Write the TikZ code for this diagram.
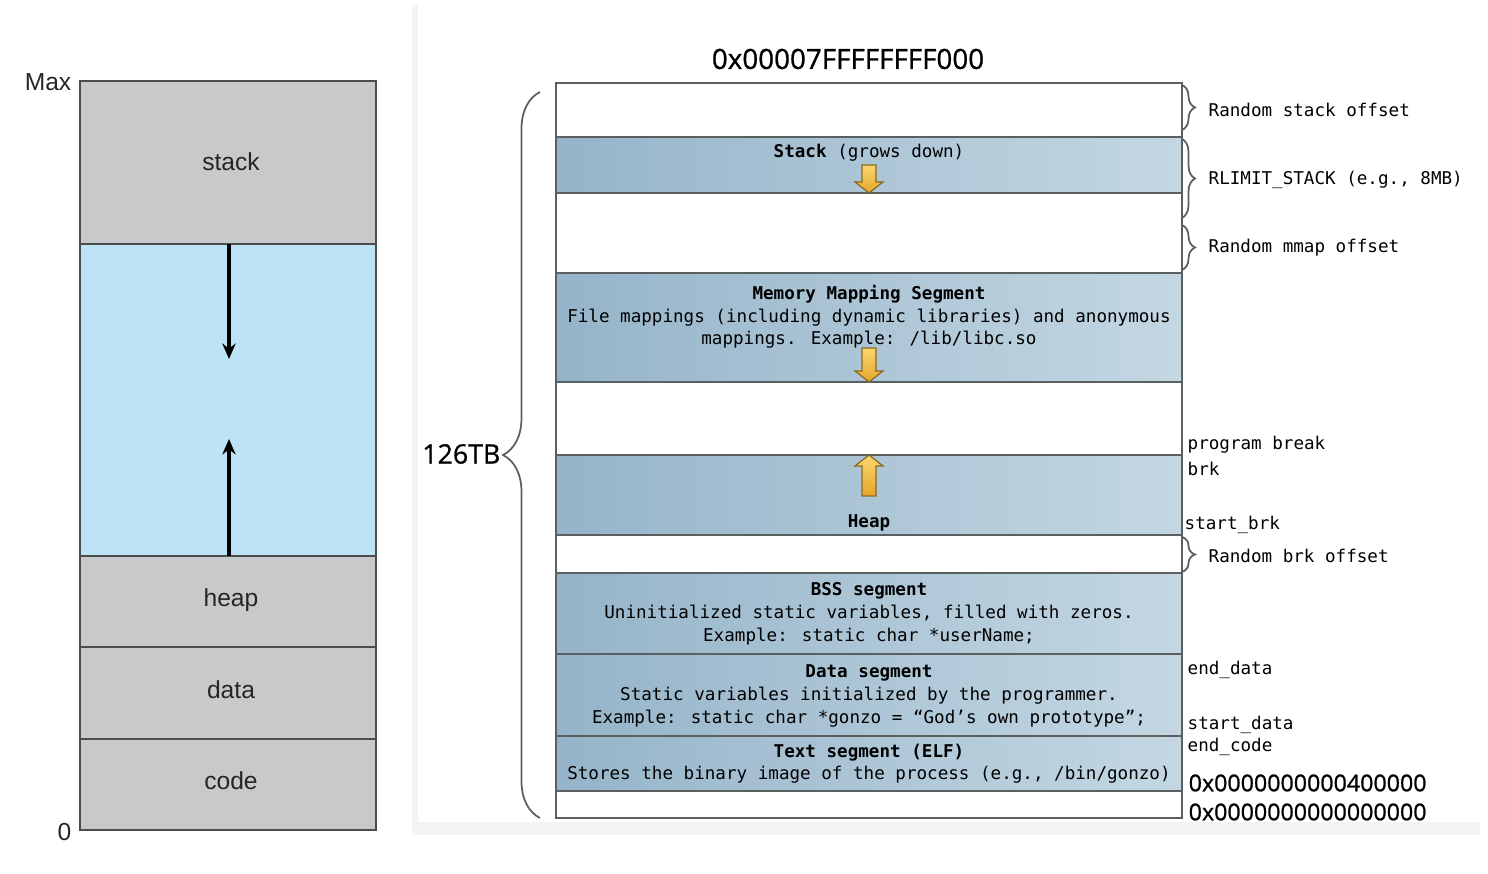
\documentclass[tikz,border=0pt]{standalone}
\usepackage{fontspec}
\setmainfont{Liberation Sans}
\newfontfamily\monofont{DejaVu Sans Mono}
\newfontfamily\hexfont[FakeBold=0.9]{Open Sans}
\usetikzlibrary{positioning, arrows.meta, decorations.pathreplacing}
\definecolor{grau}{HTML}{C8C9CB}
\definecolor{hellblau}{HTML}{BDE3F6}
\definecolor{segdunkel}{HTML}{95B4C9}
\definecolor{seghell}{HTML}{C4D7E3}
\definecolor{rahmen}{HTML}{5A5F5F}
\definecolor{gelbhell}{HTML}{FAD76E}
\definecolor{gelbdunkel}{HTML}{E6A52A}
\definecolor{gelbrand}{HTML}{8A6A20}
\definecolor{papier}{HTML}{F3F3F3}
\tikzset{
  seg/.style={draw=rahmen, line width=0.55pt, left color=segdunkel, right color=seghell},
  linie/.style={draw=black!70, line width=0.45pt},
  links/.style={font=\fontsize{7}{8}\selectfont, text=black!85, inner sep=0pt},
  mono/.style={font=\monofont\fontsize{5}{6.5}\selectfont, align=center, inner sep=0pt, yshift=-0.5pt},
  hex/.style={font=\hexfont\fontsize{6.6}{8}\selectfont, inner sep=0pt, anchor=west},
  klammer/.style={draw=rahmen, line width=0.5pt, decorate, decoration={brace, amplitude=#1}},
  pics/gelbpfeil/.style={code={
    \draw[draw=gelbrand, line width=0.35pt, top color=gelbhell, bottom color=gelbdunkel]
      (-7,-#1) -- (7,-#1) -- (7,#1-11) -- (14,#1-11) -- (0,#1) -- (-14,#1-11) -- (-7,#1-11) -- cycle;
  }}
}
\begin{document}
\begin{tikzpicture}[x=0.01cm, y=-0.01cm]
  \useasboundingbox (0,0) rectangle (1488,874);
  % Hintergrund rechts
  \fill[papier] (412,5) rectangle (1480,835);
  \fill[white] (418,5) rectangle (1480,822);

  % linkes Bild: einfacher Adressraum
  \fill[grau] (80,81) rectangle (376,830);
  \fill[hellblau] (80,244) rectangle (376,556);
  \foreach \y in {244,556,647,739} \draw[linie] (80,\y) -- (376,\y);
  \draw[linie] (80,81) rectangle (376,830);
  \node[links] (stack) at (231,162) {stack};
  \node[links] (heap) at (231,600) {heap};
  \node[links] (data) at (231,690) {data};
  \node[links] (code) at (231,781) {code};
  \node[links, anchor=east] (max) at (72,82) {Max};
  \node[links, anchor=east] (null) at (72,832) {0};
  % Wachstumsrichtungen
  \coordinate (stackunten) at (229,244);
  \coordinate (stackziel) at (229,359);
  \coordinate (heapoben) at (229,556);
  \coordinate (heapziel) at (229,439);
  \draw[line width=0.9pt, -{Stealth[length=4.4pt, width=3.8pt]}] (stackunten) -- (stackziel);
  \draw[line width=0.9pt, -{Stealth[length=4.4pt, width=3.8pt]}] (heapoben) -- (heapziel);

  % rechtes Bild: Linux-Prozess
  \fill[white] (556,83) rectangle (1182,818);
  \foreach \o/\u in {137/193, 273/382, 455/535, 573/654, 654/736, 736/791}
    \draw[seg] (556,\o) rectangle (1182,\u);
  \draw[draw=rahmen, line width=0.55pt] (556,83) rectangle (1182,818);

  % Beschriftung der Segmente
  \node[mono] (stackseg) at (869,151) {{\bfseries Stack} (grows down)};
  \node[mono] (mmapseg) at (869,315) {{\bfseries Memory Mapping Segment}\\File mappings (including dynamic libraries) and anonymous\\mappings. Example: /lib/libc.so};
  \node[mono] (heapseg) at (869,521) {\bfseries Heap};
  \node[mono] (bssseg) at (869,612) {{\bfseries BSS segment}\\Uninitialized static variables, filled with zeros.\\Example: static char *userName;};
  \node[mono] (dataseg) at (869,694) {{\bfseries Data segment}\\Static variables initialized by the programmer.\\Example: static char *gonzo = “God’s own prototype”;};
  \node[mono] (textseg) at (869,762) {{\bfseries Text segment (ELF)}\\Stores the binary image of the process (e.g., /bin/gonzo)};

  % gelbe Pfeile
  \pic (stackpfeil) at (869,179) {gelbpfeil=14};
  \pic (mmappfeil) at (869,365) {gelbpfeil=17};
  \pic[yscale=-1] (heappfeil) at (869,475.5) {gelbpfeil=20.5};

  % Klammern rechts
  \coordinate (rso) at (1182,85);  \coordinate (rsu) at (1182,130);
  \coordinate (rlo) at (1182,139); \coordinate (rlu) at (1182,218);
  \coordinate (rmo) at (1182,225); \coordinate (rmu) at (1182,270);
  \coordinate (rbo) at (1182,537); \coordinate (rbu) at (1182,572);
  \draw[klammer=0.13cm] (rso) -- (rsu);
  \draw[klammer=0.13cm] (rlo) -- (rlu);
  \draw[klammer=0.13cm] (rmo) -- (rmu);
  \draw[klammer=0.13cm] (rbo) -- (rbu);
  \node[mono, anchor=west] (rstack) at (1208,108) {Random stack offset};
  \node[mono, anchor=west] (rlimit) at (1208,178) {RLIMIT\_STACK (e.g., 8MB)};
  \node[mono, anchor=west] (rmmap) at (1208,246) {Random mmap offset};
  \node[mono, anchor=west] (rbrk) at (1208,554) {Random brk offset};

  % Marken am rechten Rand
  \node[mono, anchor=west] (pbreak) at (1187,443) {program break};
  \node[mono, anchor=west] (brk) at (1187,467) {brk};
  \node[mono, anchor=west] (startbrk) at (1184,523) {start\_brk};
  \node[mono, anchor=west] (enddata) at (1187,668) {end\_data};
  \node[mono, anchor=west] (startdata) at (1187,723) {start\_data};
  \node[mono, anchor=west] (endcode) at (1187,745) {end\_code};

  % Adressen
  \node[hex, anchor=center, font=\hexfont\fontsize{7.9}{9}\selectfont] (oben) at (848,59) {0x00007FFFFFFFF000};
  \node[hex] (adr4) at (1188,783) {0x0000000000400000};
  \node[hex] (adr0) at (1188,812) {0x0000000000000000};

  % grosse Klammer links
  \coordinate (klunten) at (540,818);
  \coordinate (kloben) at (540,92);
  \draw[klammer=0.37cm] (klunten) -- (kloben);
  \node[hex, anchor=east, font=\hexfont\fontsize{7.6}{9}\selectfont] (groesse) at (501,454) {126TB};
\end{tikzpicture}
\end{document}
